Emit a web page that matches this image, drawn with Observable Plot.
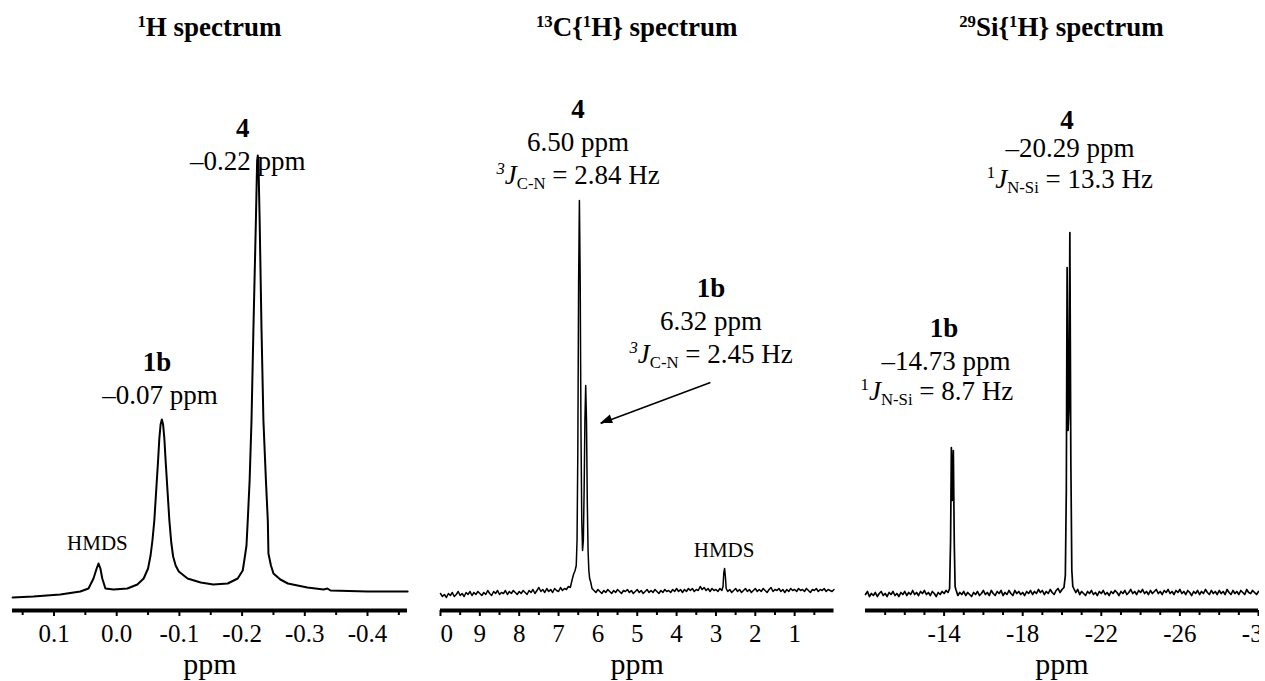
<!DOCTYPE html>
<html><head><meta charset="utf-8">
<script src="https://cdn.jsdelivr.net/npm/d3@7"></script>
<script src="https://cdn.jsdelivr.net/npm/@observablehq/plot@0.6"></script>
<style>
body{margin:0;background:#fff;}
#wrap{position:relative;width:1265px;height:681px;overflow:hidden;font-family:"Liberation Serif","Times New Roman",serif;color:#000;}
.title{position:absolute;top:12px;font-weight:bold;font-size:27px;white-space:nowrap;transform:translateX(-50%);line-height:30px;}
.title sup{font-size:0.62em;line-height:0;vertical-align:0.55em;}
.panel{position:absolute;top:50px;}
.panel svg{overflow:hidden;display:block;}
</style></head><body><div id="wrap"></div>
<script>
// ---------- 1H spectrum: [ppm, intensity] ----------
const hSpectrum = [[0.166,13],[0.133,14],[0.090,16],[0.058,19],[0.045,22],[0.037,32],[0.032,42],[0.029,47],[0.026,42],[0.023,32],[0.018,22],[0.005,21],[-0.017,22],[-0.033,26],[-0.043,32],[-0.050,42],[-0.054,55],[-0.057,70],[-0.060,90],[-0.063,120],[-0.066,150],[-0.068,172],[-0.070,186],[-0.072,191],[-0.074,186],[-0.076,172],[-0.078,150],[-0.081,120],[-0.084,90],[-0.087,68],[-0.090,54],[-0.094,45],[-0.099,39],[-0.113,32],[-0.134,28],[-0.154,26],[-0.177,27],[-0.193,32],[-0.201,40],[-0.204,52],[-0.207,65],[-0.209,90],[-0.212,130],[-0.215,190],[-0.218,280],[-0.222,390],[-0.224,450],[-0.225,455],[-0.226,450],[-0.228,390],[-0.231,280],[-0.234,190],[-0.238,130],[-0.241,90],[-0.242,57],[-0.246,45],[-0.250,37],[-0.261,31],[-0.273,27],[-0.304,23],[-0.330,21],[-0.336,22],[-0.341,20],[-0.400,19],[-0.464,19]];

// ---------- 13C{1H} spectrum ----------
const cSpectrum = [[10.00,17],[9.95,14],[9.90,16],[9.85,13],[9.80,17],[9.75,15],[9.70,18],[9.65,14],[9.60,16],[9.55,19],[9.50,15],[9.45,17],[9.40,14],[9.35,18],[9.30,16],[9.25,19],[9.20,15],[9.15,18],[9.10,16],[9.05,19],[9.00,17],[8.95,15],[8.90,18],[8.85,16],[8.80,20],[8.75,17],[8.70,15],[8.65,19],[8.60,17],[8.55,20],[8.50,16],[8.45,18],[8.40,17],[8.35,20],[8.30,16],[8.25,19],[8.20,17],[8.15,20],[8.10,18],[8.05,16],[8.00,19],[7.95,17],[7.90,20],[7.85,18],[7.80,16],[7.75,20],[7.70,18],[7.65,21],[7.60,17],[7.55,20],[7.50,23],[7.45,19],[7.40,21],[7.35,18],[7.30,22],[7.25,19],[7.20,21],[7.15,18],[7.10,22],[7.05,20],[7.00,19],[6.95,23],[6.90,20],[6.85,22],[6.80,21],
[6.75,24],[6.70,23],[6.66,30],[6.62,36],[6.58,40],[6.55,45],[6.53,70],[6.51,160],[6.49,330],[6.47,410],[6.45,330],[6.43,180],[6.41,90],[6.39,60],[6.37,70],[6.35,120],[6.33,190],[6.31,225],[6.29,190],[6.27,110],[6.25,60],[6.23,40],[6.21,32],[6.18,28],[6.15,22],
[6.10,20],[6.05,18],[6.00,21],[5.95,19],[5.90,17],[5.85,20],[5.80,18],[5.75,21],[5.70,19],[5.65,17],[5.60,20],[5.55,18],[5.50,21],[5.45,19],[5.40,17],[5.35,20],[5.30,19],[5.25,21],[5.20,18],[5.15,20],[5.10,17],[5.05,19],[5.00,21],[4.95,18],[4.90,20],[4.85,17],[4.80,19],[4.75,21],[4.70,18],[4.65,20],[4.60,18],[4.55,21],[4.50,19],[4.45,17],[4.40,20],[4.35,18],[4.30,21],[4.25,19],[4.20,20],[4.15,18],[4.10,21],[4.05,19],[4.00,22],[3.95,19],[3.90,21],[3.85,18],[3.80,21],[3.75,19],[3.70,22],[3.65,20],[3.60,22],[3.55,19],[3.50,21],[3.45,20],[3.40,24],[3.35,21],[3.30,23],[3.25,20],[3.20,22],[3.15,19],[3.10,22],[3.05,20],[3.00,21],[2.95,19],[2.90,22],[2.85,20],
[2.82,24],[2.80,38],[2.78,42],[2.76,34],[2.74,22],
[2.70,19],[2.65,21],[2.60,18],[2.55,20],[2.50,22],[2.45,19],[2.40,21],[2.35,18],[2.30,20],[2.25,22],[2.20,19],[2.15,21],[2.10,18],[2.05,20],[2.00,22],[1.95,19],[1.90,21],[1.85,19],[1.80,22],[1.75,20],[1.70,18],[1.65,21],[1.60,23],[1.55,19],[1.50,21],[1.45,20],[1.40,22],[1.35,19],[1.30,21],[1.25,18],[1.20,21],[1.15,19],[1.10,22],[1.05,20],[1.00,21],[0.95,19],[0.90,22],[0.85,20],[0.80,21],[0.75,19],[0.70,22],[0.65,20],[0.60,18],[0.55,21],[0.50,20],[0.45,22],[0.40,19],[0.35,21],[0.30,20],[0.25,22],[0.20,19],[0.15,21],[0.10,20],[0.05,19],[0.00,21]];

// ---------- 29Si{1H} spectrum ----------
const siSpectrum = [[-10.0,16],[-10.1,19],[-10.2,14],[-10.3,17],[-10.4,15],[-10.5,18],[-10.6,14],[-10.7,17],[-10.8,19],[-10.9,15],[-11.0,17],[-11.1,14],[-11.2,18],[-11.3,16],[-11.4,19],[-11.5,15],[-11.6,17],[-11.7,14],[-11.8,18],[-11.9,16],[-12.0,19],[-12.1,15],[-12.2,18],[-12.3,16],[-12.4,20],[-12.5,16],[-12.6,18],[-12.7,15],[-12.8,19],[-12.9,17],[-13.0,20],[-13.1,16],[-13.2,18],[-13.3,15],[-13.4,19],[-13.5,17],[-13.6,14],[-13.7,18],[-13.8,16],[-13.9,19],[-14.0,17],[-14.1,20],[-14.2,18],
[-14.28,22],[-14.33,70],[-14.37,163],[-14.42,110],[-14.47,160],[-14.52,65],[-14.56,24],
[-14.6,21],[-14.7,15],[-14.8,18],[-14.9,16],[-15.0,19],[-15.1,15],[-15.2,18],[-15.3,16],[-15.4,14],[-15.5,18],[-15.6,16],[-15.7,19],[-15.8,15],[-15.9,17],[-16.0,20],[-16.1,16],[-16.2,18],[-16.3,15],[-16.4,20],[-16.5,17],[-16.6,15],[-16.7,19],[-16.8,17],[-16.9,20],[-17.0,15],[-17.1,18],[-17.2,16],[-17.3,20],[-17.4,17],[-17.5,15],[-17.6,20],[-17.7,17],[-17.8,19],[-17.9,16],[-18.0,18],[-18.1,15],[-18.2,19],[-18.3,17],[-18.4,20],[-18.5,16],[-18.6,19],[-18.7,17],[-18.8,21],[-18.9,18],[-19.0,20],[-19.1,16],[-19.2,19],[-19.3,17],[-19.4,21],[-19.5,18],[-19.6,16],[-19.7,20],[-19.8,22],[-19.9,18],[-20.0,21],
[-20.1,23],[-20.17,35],[-20.22,120],[-20.26,343],[-20.31,180],[-20.35,200],[-20.40,378],[-20.45,150],[-20.5,40],[-20.55,24],
[-20.6,22],[-20.7,18],[-20.8,21],[-20.9,16],[-21.0,19],[-21.1,17],[-21.2,15],[-21.3,19],[-21.4,17],[-21.5,20],[-21.6,16],[-21.7,18],[-21.8,15],[-21.9,19],[-22.0,17],[-22.1,20],[-22.2,16],[-22.3,18],[-22.4,15],[-22.5,19],[-22.6,17],[-22.7,20],[-22.8,18],[-22.9,15],[-23.0,19],[-23.1,17],[-23.2,20],[-23.3,16],[-23.4,18],[-23.5,21],[-23.6,17],[-23.7,19],[-23.8,16],[-23.9,20],[-24.0,18],[-24.1,21],[-24.2,17],[-24.3,19],[-24.4,16],[-24.5,20],[-24.6,17],[-24.7,19],[-24.8,21],[-24.9,17],[-25.0,19],[-25.1,16],[-25.2,20],[-25.3,18],[-25.4,21],[-25.5,17],[-25.6,19],[-25.7,16],[-25.8,20],[-25.9,18],[-26.0,21],[-26.1,17],[-26.2,19],[-26.3,16],[-26.4,20],[-26.5,18],[-26.6,15],[-26.7,19],[-26.8,17],[-26.9,20],[-27.0,16],[-27.1,19],[-27.2,17],[-27.3,21],[-27.4,18],[-27.5,16],[-27.6,20],[-27.7,17],[-27.8,19],[-27.9,16],[-28.0,20],[-28.1,17],[-28.2,19],[-28.3,16],[-28.4,21],[-28.5,18],[-28.6,16],[-28.7,20],[-28.8,17],[-28.9,19],[-29.0,16],[-29.1,20],[-29.2,18],[-29.3,16],[-29.4,21],[-29.5,18],[-29.6,17],[-29.7,20],[-29.8,18],[-29.9,16],[-30.0,19]];

// ---------- axes ----------
const hTicks = [0.1,0.0,-0.1,-0.2,-0.3,-0.4];
const hTickLabels = ["0.1","0.0","-0.1","-0.2","-0.3","-0.4"];
const hMinor = [0.15,0.05,-0.05,-0.15,-0.25,-0.35,-0.45];
const cTicks = [10,9,8,7,6,5,4,3,2,1];
const cTickLabels = ["10","9","8","7","6","5","4","3","2","1"];
const cMinor = [9.5,8.5,7.5,6.5,5.5,4.5,3.5,2.5,1.5,0.5];
const siTicks = [-14,-18,-22,-26,-30];
const siTickLabels = ["-14","-18","-22","-26","-30"];
const siMinor = [-11,-12,-13,-15,-16,-17,-19,-20,-21,-23,-24,-25,-27,-28,-29];

const axisLabel = "ppm";

// ---------- titles & annotations ----------
const titles = [
  '<sup>1</sup>H spectrum',
  '<sup>13</sup>C{<sup>1</sup>H} spectrum',
  '<sup>29</sup>Si{<sup>1</sup>H} spectrum'
];
// [ppm, intensity-level, segments, size, weight]
const hNotes = [
  [-0.202, 473, [["4",""]], 27, "bold"],
  [-0.210, 440, [["–0.22 ppm",""]], 27, "normal"],
  [-0.065, 239, [["1b",""]], 27, "bold"],
  [-0.070, 206, [["–0.07 ppm",""]], 27, "normal"],
  [0.030, 60, [["HMDS",""]], 21, "normal"]
];
const cNotes = [
  [6.49, 492, [["4",""]], 27, "bold"],
  [6.49, 459, [["6.50 ppm",""]], 27, "normal"],
  [6.49, 426, [["3","sup it"],["J","it"],["C-N","sub"],[" = 2.84 Hz",""]], 27, "normal"],
  [3.11, 313, [["1b",""]], 27, "bold"],
  [3.11, 280, [["6.32 ppm",""]], 27, "normal"],
  [3.11, 247, [["3","sup it"],["J","it"],["C-N","sub"],[" = 2.45 Hz",""]], 27, "normal"],
  [2.78, 53, [["HMDS",""]], 21, "normal"]
];
const cArrow = [{x1:3.14, y1:228, x2:5.93, y2:187}];
const siNotes = [
  [-20.28, 481, [["4",""]], 27, "bold"],
  [-20.43, 453, [["–20.29 ppm",""]], 27, "normal"],
  [-20.43, 422, [["1",  "sup"],["J","it"],["N-Si","sub"],[" = 13.3 Hz",""]], 27, "normal"],
  [-14.02, 273, [["1b",""]], 27, "bold"],
  [-14.12, 240, [["–14.73 ppm",""]], 27, "normal"],
  [-13.66, 210, [["1","sup"],["J","it"],["N-Si","sub"],[" = 8.7 Hz",""]], 27, "normal"]
];

const panels = [
  {left:0, width:420, mL:12, mR:13, domain:[0.1662,-0.4638], spec:hSpectrum, sw:2,
   ticks:hTicks, labels:hTickLabels, minor:hMinor, notes:hNotes, arrows:[]},
  {left:439, width:400, mL:1, mR:5.5, domain:[10,0], spec:cSpectrum, sw:1.5,
   ticks:cTicks, labels:cTickLabels, minor:cMinor, notes:cNotes, arrows:cArrow},
  {left:835, width:424, mL:30, mR:1, domain:[-10,-30], spec:siSpectrum, sw:1.7,
   ticks:siTicks, labels:siTickLabels, minor:siMinor, notes:siNotes, arrows:[]}
];

const H = 631, MB = 71, MT = 10;
const wrap = document.getElementById("wrap");

panels.forEach((p, k) => {
  const data = p.spec.map(([x, v]) => ({ppm: x, v}));
  const lab = new Map(p.ticks.map((t, i) => [t, p.labels[i]]));
  const chart = Plot.plot({
    width: p.width, height: H,
    marginLeft: p.mL, marginRight: p.mR, marginTop: MT, marginBottom: MB,
    x: {domain: p.domain, label: null},
    y: {domain: [0, 550], axis: null},
    style: {fontFamily: '"Liberation Serif","Times New Roman",serif', background: "transparent", color: "black"},
    marks: [
      Plot.line(data, {x: "ppm", y: "v", stroke: "black", strokeWidth: p.sw, strokeLinejoin: "round"}),
      Plot.link(p.arrows, {x1: "x1", y1: "y1", x2: "x2", y2: "y2", stroke: "black", strokeWidth: 1.5}),
      Plot.axisX(p.minor, {tickSize: 5, strokeWidth: 2, tickFormat: () => "", label: null}),
      Plot.axisX(p.ticks, {tickSize: 6, strokeWidth: 2, tickPadding: 8, fontSize: 25, tickFormat: d => lab.get(d), label: null}),
      Plot.ruleY([0], {stroke: "black", strokeWidth: 4}),
      Plot.text([axisLabel], {frameAnchor: "bottom", dy: 63, fontSize: 30, text: d => d})
    ]
  });
  const div = document.createElement("div");
  div.className = "panel";
  div.style.left = p.left + "px";
  div.appendChild(chart);
  wrap.appendChild(div);

  const xs = chart.scale("x"), ys = chart.scale("y");
  const g = d3.select(chart).append("g").attr("fill", "black");
  // filled arrowheads at the arrow tips, oriented along the scaled arrow direction
  p.arrows.forEach(a => {
    const X1 = xs.apply(a.x1), Y1 = ys.apply(a.y1), X2 = xs.apply(a.x2), Y2 = ys.apply(a.y2);
    const L = Math.hypot(X2 - X1, Y2 - Y1), ux = (X2 - X1) / L, uy = (Y2 - Y1) / L;
    const len = 12, hw = 4.5, bx = X2 - ux * len, by = Y2 - uy * len;
    g.append("path").attr("d", `M${X2},${Y2}L${bx - uy * hw},${by + ux * hw}L${bx + uy * hw},${by - ux * hw}Z`);
  });
  p.notes.forEach(([x, y, segs, size, weight]) => {
    const t = g.append("text").attr("x", xs.apply(x)).attr("y", ys.apply(y))
      .attr("text-anchor", "middle").attr("font-size", size).attr("font-weight", weight);
    let shift = 0;
    segs.forEach(([s, f]) => {
      const sup = f.includes("sup"), sub = f.includes("sub");
      const target = sup ? -0.36 * size : sub ? 0.2 * size : 0;
      const ts = t.append("tspan").text(s).attr("dy", target - shift);
      if (sup || sub) ts.attr("font-size", size * 0.62);
      if (f.includes("it")) ts.attr("font-style", "italic");
      shift = target;
    });
  });

  const title = document.createElement("div");
  title.className = "title";
  title.innerHTML = titles[k];
  title.style.left = (p.left + (p.mL + p.width - p.mR) / 2) + "px";
  wrap.appendChild(title);
});
</script></body></html>
